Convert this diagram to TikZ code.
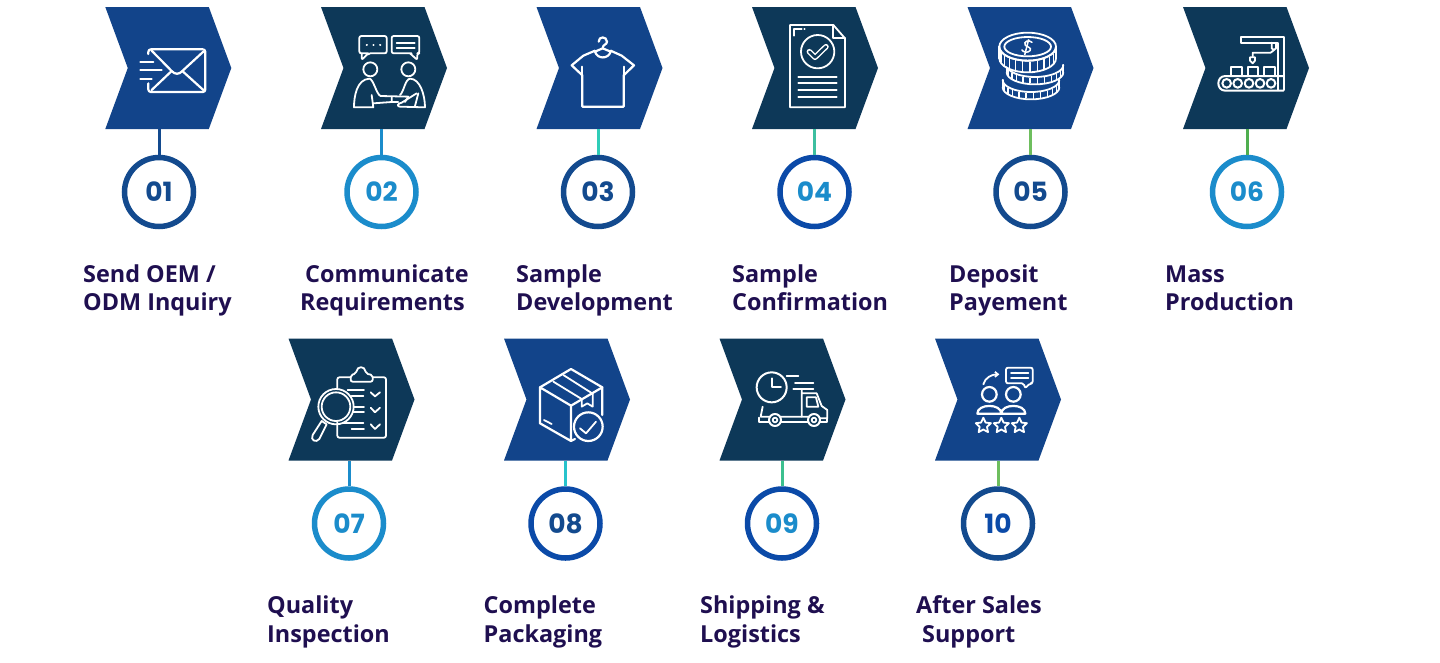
\documentclass[tikz,border=0pt]{standalone}
\usepackage{fontspec}
\setmainfont{Open Sans}
\newfontfamily\numfont{Poppins}
\usetikzlibrary{arrows.meta}
\definecolor{cblue}{HTML}{12448A}
\definecolor{cdark}{HTML}{0D3858}
\definecolor{rblue}{HTML}{134A8E}
\definecolor{rsky}{HTML}{1B8CCB}
\definecolor{rroyal}{HTML}{0B4AA8}
\definecolor{steal}{HTML}{2FCDB8}
\definecolor{sgreen}{HTML}{3DBFA0}
\definecolor{slime}{HTML}{6EBE5E}
\definecolor{sleaf}{HTML}{4FAE4F}
\definecolor{scyan}{HTML}{27C3CC}
\definecolor{smint}{HTML}{3CC08F}
\definecolor{slabel}{HTML}{1F0F50}
\tikzset{
 x=1pt,y=-1pt,
 chevbox/.style={minimum width=126pt,minimum height=122pt,inner sep=0pt,outer sep=0pt},
 ring/.style={circle,draw=#1,line width=5.5pt,minimum size=69pt,inner sep=0pt,outer sep=2.75pt,fill=white,font=\numfont\bfseries\fontsize{26.5}{28}\selectfont},
 stem/.style={draw=#1,line width=3pt},
 lbl/.style={anchor=north west,align=left,inner sep=0pt,text=slabel,font=\bfseries\fontsize{23.4}{28.5}\selectfont},
 ic/.style={draw=white,line width=2.2pt,line cap=round,line join=round},
 ict/.style={draw=white,line width=1.8pt,line cap=round,line join=round},
}
% name, left x, top y, colour
\newcommand{\chevshape}[4]{%
 \node[chevbox] (#1) at (#2+63,#3+61) {};
 \fill[#4] (#2,#3) -- (#2+103.5,#3) -- (#2+126,#3+61) -- (#2+103.5,#3+122) -- (#2,#3+122) -- (#2+22.5,#3+61) -- cycle;
}
\newcommand{\hatchcoin}[5]{% cx cy rx ry h
 \draw[ict] (#1-#3,#2) arc[start angle=180,end angle=360,x radius=#3,y radius=-#4];
 \draw[ict] (#1-#3,#2) -- (#1-#3,#2+#5);
 \draw[ict] (#1+#3,#2) -- (#1+#3,#2+#5);
 \draw[ict] (#1-#3,#2+#5) arc[start angle=180,end angle=360,x radius=#3,y radius=-#4];
 \foreach \t in {200,215,...,340}{
  \draw[white,line width=1.4pt] ({#1+#3*cos(\t)},{#2-#4*sin(\t)+3}) -- ({#1+#3*cos(\t)},{#2-#4*sin(\t)+#5-2});
 }
}
\newcommand{\staricon}[3]{%
 \draw[ict] ({#1+#3*sin(0)},{#2-#3*cos(0)})
 \foreach \k in {1,...,9}{ -- ({#1+(#3*(1-0.52*mod(\k,2)))*sin(36*\k)},{#2-(#3*(1-0.52*mod(\k,2)))*cos(36*\k)}) } -- cycle;
}
\newcommand{\fl}{\rule{0pt}{22pt}}
\begin{document}
\begin{tikzpicture}
\useasboundingbox (0,0) rectangle (1440,662);
\fill[white] (0,0) rectangle (1440,662);
% chevrons
\chevshape{s1}{105.3}{7}{cblue}
\chevshape{s2}{321}{7}{cdark}
\chevshape{s3}{536.5}{7}{cblue}
\chevshape{s4}{752}{7}{cdark}
\chevshape{s5}{967.5}{7}{cblue}
\chevshape{s6}{1183}{7}{cdark}
\chevshape{s7}{288.5}{338.5}{cdark}
\chevshape{s8}{504}{338.5}{cblue}
\chevshape{s9}{719.5}{338.5}{cdark}
\chevshape{s10}{935}{338.5}{cblue}
% number rings
\node[ring=rblue,text=rblue] (c1) at (159,192) {01};
\node[ring=rsky,text=rsky] (c2) at (381.5,192) {02};
\node[ring=rblue,text=rblue] (c3) at (598,192) {03};
\node[ring=rroyal,text=rsky] (c4) at (814.5,192) {04};
\node[ring=rblue,text=rblue] (c5) at (1030.5,192) {05};
\node[ring=rsky,text=rsky] (c6) at (1247,192) {06};
\node[ring=rsky,text=rsky] (c7) at (349,523.5) {07};
\node[ring=rroyal,text=rblue] (c8) at (565.5,523.5) {08};
\node[ring=rroyal,text=rsky] (c9) at (782,523.5) {09};
\node[ring=rblue,text=rroyal] (c10) at (998,523.5) {10};
% stems
\draw[stem=rblue] (c1.north) -- (c1.north |- s1.south);
\draw[stem=rsky] (c2.north) -- (c2.north |- s2.south);
\draw[stem=steal] (c3.north) -- (c3.north |- s3.south);
\draw[stem=sgreen] (c4.north) -- (c4.north |- s4.south);
\draw[stem=slime] (c5.north) -- (c5.north |- s5.south);
\draw[stem=sleaf] (c6.north) -- (c6.north |- s6.south);
\draw[stem=rsky] (c7.north) -- (c7.north |- s7.south);
\draw[stem=scyan] (c8.north) -- (c8.north |- s8.south);
\draw[stem=smint] (c9.north) -- (c9.north |- s9.south);
\draw[stem=slime] (c10.north) -- (c10.north |- s10.south);
% labels
\node[lbl] (t1) at (83,260) {\fl Send OEM /\\ODM Inquiry};
\node[lbl] (t2) at (300,260) {\fl\hspace*{5pt}Communicate\\Requirements};
\node[lbl] (t3) at (516,260) {\fl Sample\\Development};
\node[lbl] (t4) at (732,260) {\fl Sample\\Confirmation};
\node[lbl] (t5) at (949,260) {\fl Deposit\\Payement};
\node[lbl] (t6) at (1165,260) {\fl Mass\\Production};
\node[lbl] (t7) at (267,591.5) {\fl Quality\\Inspection};
\node[lbl] (t8) at (483.5,591.5) {\fl Complete\\Packaging};
\node[lbl] (t9) at (700,591.5) {\fl Shipping \&\\Logistics};
\node[lbl] (t10) at (916,591.5) {\fl After Sales\\\hspace*{6pt}Support};
% icon: envelope
\begin{scope}[shift={(80,0)},x=0.33333pt,y=-0.33333pt]
\draw[ic,rounded corners=2.5pt] (205,162) -- (205,148) -- (376,148) -- (376,276) -- (205,276) -- (205,250);
\draw[ic] (215,152) -- (275,213) .. controls (285,224) and (297,224) .. (307,213) -- (370,155);
\draw[ic] (215,270) -- (275,213) (307,213) -- (370,270);
\draw[ic] (181,185) -- (220,185) (181,210) -- (245,210) (181,236) -- (215,236);
\end{scope}
% icon: two people
\begin{scope}[shift={(80,0)},x=0.33333pt,y=-0.33333pt]
\draw[ict,rounded corners=2pt] (865,160) -- (838,160) -- (838,108) -- (920,108) -- (920,160) -- (865,160) -- (845,180) -- (845,160);
\draw[ict,rounded corners=2pt] (995,160) -- (935,160) -- (935,108) -- (1018,108) -- (1018,160) -- (1012,160) -- (1012,180) -- (990,160);
\draw[ict,line width=2pt] (860,135) -- (861,135) (880,135) -- (881,135) (900,135) -- (901,135);
\draw[ict] (950,130) -- (1004,130) (950,145) -- (1004,145);
\draw[ict] (871,208) circle[radius=21] (985,208) circle[radius=21];
\draw[ict] (875,285) -- (880,322) -- (822,322) .. controls (822,290) and (830,238) .. (868,236) .. controls (880,236) and (890,285) .. (902,288) -- (985,290);
\draw[ict] (880,310) -- (935,306) (935,290) -- (935,306) -- (955,306);
\draw[ict] (960,285) .. controls (972,275) and (975,238) .. (990,236) .. controls (1020,236) and (1035,285) .. (1035,322) -- (960,320) .. controls (950,320) and (952,310) .. (965,308) -- (1010,280);
\draw[ict] (1015,280) -- (1005,318) (985,290) -- (975,306);
\end{scope}
% icon: shirt
\begin{scope}[shift={(520,0)},x=0.33333pt,y=-0.33333pt]
\draw[ic] (225,152) -- (190,167) -- (155,196) -- (187,226) -- (187,320) -- (311,320) -- (311,226) -- (342,196) -- (305,167) -- (272,152);
\draw[ic] (187,226) -- (187,200) (311,226) -- (311,200);
\draw[ic] (225,155) .. controls (232,178) and (265,178) .. (272,155);
\draw[ic] (225,155) -- (248,145) -- (272,155);
\draw[ic] (236,125) .. controls (236,108) and (260,108) .. (261,125) .. controls (261,135) and (248,132) .. (248,145);
\end{scope}
% icon: document
\begin{scope}[shift={(520,0)},x=0.33333pt,y=-0.33333pt]
\draw[ict] (810,75) -- (940,75) -- (975,115) -- (975,322) -- (810,322) -- cycle;
\draw[ict] (940,75) -- (940,115) -- (975,115);
\draw[ict] (822,107) -- (822,88) -- (845,88) (853,88) -- (854,88);
\draw[ict] (893,155) circle[radius=50];
\draw[white,line width=5.5pt,line cap=round,line join=round] (868,155) -- (885,172) -- (918,140);
\draw[cdark,line width=2.6pt,line cap=round,line join=round] (868,155) -- (885,172) -- (918,140);
\foreach \yy in {230,250,271,292}{\draw[ict] (835,\yy) -- (950,\yy);}
\end{scope}
% icon: coins
\begin{scope}[shift={(950,0)},x=0.33333pt,y=-0.33333pt]
\hatchcoin{243}{240}{85}{36}{22}
\hatchcoin{255}{195}{85}{36}{22}
\fill[cblue] (148,140) -- (148,175) .. controls (160,225) and (306,225) .. (318,175) -- (318,140) -- cycle;
\hatchcoin{233}{140}{85}{42}{35}
\draw[ict] (233,140) ellipse[x radius=85,y radius=42];
\draw[ict] (233,140) ellipse[x radius=70,y radius=29];
\draw[white,line width=1.5pt,line cap=round] (246,127) .. controls (238,118) and (218,124) .. (226,136) .. controls (232,142) and (246,142) .. (240,152) .. controls (234,160) and (218,156) .. (216,150);
\draw[white,line width=1.5pt] (236,118) -- (224,165);
\end{scope}
% icon: factory
\begin{scope}[shift={(950,0)},x=0.33333pt,y=-0.33333pt]
\draw[ic,line width=2pt] (985,270) -- (985,128) -- (872,128) -- (872,112) -- (1002,112) -- (1002,270);
\draw[ict] (965,128) -- (965,145) -- (972,150) -- (978,145) -- (978,128);
\draw[ict] (972,150) -- (962,158) -- (908,158) -- (908,170);
\draw[ict] (900,172) -- (915,172) -- (915,182) -- (908,190) -- (900,182) -- cycle;
\draw[ict] (842,228) -- (842,202) -- (875,202) -- (875,228);
\draw[ict] (893,228) -- (893,202) -- (925,202) -- (925,228);
\draw[ict] (942,228) -- (942,202) -- (975,202) -- (975,228);
\draw[ic,line width=2pt] (1000,228) -- (826,228) .. controls (798,228) and (798,272) .. (826,272) -- (1000,272);
\foreach \xx in {830,863,897,930,963}{\draw[ic,line width=2pt] (\xx,250) circle[radius=13];}
\end{scope}
% icon: clipboard
\begin{scope}[shift={(280,335)},x=0.33333pt,y=-0.33333pt]
\draw[ict,rounded corners=2pt] (172,162) -- (172,127) -- (212,127) (278,127) -- (318,127) -- (318,308) -- (172,308) -- (172,262);
\draw[ict,rounded corners=2pt] (212,140) -- (278,140) -- (278,120) -- (258,116) .. controls (254,92) and (232,92) .. (228,116) -- (212,120) -- cycle;
\draw[ict] (168,215) circle[radius=53];
\draw[ict] (168,215) circle[radius=43];
\draw[ict] (125,258) -- (140,268) -- (118,312) .. controls (108,325) and (90,315) .. (98,300) -- cycle;
\draw[ict] (203,165) -- (252,165) (215,182) -- (250,182) (222,215) -- (252,215) (220,232) -- (252,232) (190,265) -- (250,265) (215,283) -- (252,283);
\draw[ict] (272,172) -- (285,184) -- (300,172) (272,218) -- (285,232) -- (300,218) (272,268) -- (285,282) -- (300,268);
\end{scope}
% icon: box
\begin{scope}[shift={(280,335)},x=0.33333pt,y=-0.33333pt]
\draw[ic] (873,102) -- (967,157) -- (967,240) (780,157) -- (873,102);
\draw[ic] (780,157) -- (780,265) -- (873,318) -- (885,312) (780,157) -- (873,212) -- (967,157) (873,212) -- (873,318);
\draw[ict] (820,140) -- (905,192) (850,120) -- (938,176);
\draw[ict] (905,192) -- (905,215) -- (922,205) -- (938,215) -- (938,176);
\draw[ict] (792,255) -- (815,267);
\draw[ic] (925,275) circle[radius=43];
\draw[ict] (900,280) -- (918,295) -- (948,260);
\end{scope}
% icon: truck
\begin{scope}[shift={(710,335)},x=0.33333pt,y=-0.33333pt]
\draw[ic,line width=2pt] (185,157) circle[radius=45];
\draw[ict] (185,130) -- (185,157) -- (213,157);
\draw[ict] (230,122) -- (265,122) (255,143) -- (310,143) (250,163) -- (310,163);
\draw[ict] (275,165) -- (275,245) (275,175) -- (320,175) -- (335,213) -- (352,225) -- (352,250) -- (330,250);
\draw[ict] (290,187) -- (318,187) -- (325,215) -- (290,215) -- cycle;
\draw[ict] (158,215) -- (152,245) -- (178,245) (212,245) -- (295,245);
\draw[ict] (148,248) -- (148,262) -- (178,262) (212,262) -- (295,262) (328,262) -- (352,262) -- (352,250);
\draw[ic,line width=2pt] (195,255) circle[radius=18] (312,255) circle[radius=18];
\draw[ict] (195,255) circle[radius=7] (312,255) circle[radius=7];
\end{scope}
% icon: customers
\begin{scope}[shift={(710,335)},x=0.33333pt,y=-0.33333pt]
\draw[ict,rounded corners=2pt] (888,98) -- (968,98) -- (968,145) -- (960,145) -- (945,160) -- (942,145) -- (888,145) -- cycle;
\draw[ict] (903,113) -- (955,113) (903,128) -- (955,128);
\draw[ict,-{Straight Barb[length=3pt,width=5pt]}] (820,148) .. controls (825,128) and (845,118) .. (868,118);
\draw[ic] (838,178) circle[radius=22] (910,178) circle[radius=22];
\draw[ic] (802,236) .. controls (802,205) and (874,205) .. (874,236) .. controls (874,205) and (946,205) .. (946,236) -- cycle;
\staricon{820}{272}{24}
\staricon{874}{272}{24}
\staricon{928}{272}{24}
\end{scope}
\end{tikzpicture}
\end{document}
